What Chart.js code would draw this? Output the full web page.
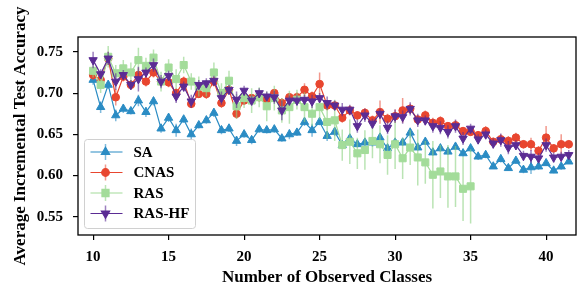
<!DOCTYPE html>
<html lang="en">
<head>
<meta charset="UTF-8" />
<title>Average Incremental Test Accuracy</title>
<script src="https://cdn.jsdelivr.net/npm/chart.js"></script>
<style>body { margin: 0; background: #fff; }</style>
</head>
<body>
<canvas id="accChart" width="582" height="291"></canvas>
<script>
// number of observed classes (x positions)
const classes = [10, 10.5, 11, 11.5, 12, 12.5, 13, 13.5, 14, 14.5,
  15, 15.5, 16, 16.5, 17, 17.5, 18, 18.5, 19, 19.5,
  20, 20.5, 21, 21.5, 22, 22.5, 23, 23.5, 24, 24.5,
  25, 25.5, 26, 26.5, 27, 27.5, 28, 28.5, 29, 29.5,
  30, 30.5, 31, 31.5, 32, 32.5, 33, 33.5, 34, 34.5,
  35, 35.5, 36, 36.5, 37, 37.5, 38, 38.5, 39, 39.5,
  40, 40.5, 41, 41.5];
const xTicks = [10, 15, 20, 25, 30, 35, 40];
const yTicks = [0.55, 0.60, 0.65, 0.70, 0.75];

const saAcc = [0.716, 0.683, 0.710, 0.673, 0.681, 0.678, 0.691, 0.677, 0.690, 0.657,
  0.670, 0.655, 0.668, 0.650, 0.661, 0.667, 0.676, 0.655, 0.657, 0.642,
  0.650, 0.643, 0.656, 0.655, 0.656, 0.645, 0.650, 0.652, 0.665, 0.655,
  0.665, 0.648, 0.653, 0.637, 0.645, 0.638, 0.640, 0.640, 0.646, 0.633,
  0.640, 0.640, 0.652, 0.634, 0.641, 0.628, 0.633, 0.629, 0.635, 0.627,
  0.633, 0.623, 0.625, 0.611, 0.620, 0.609, 0.618, 0.607, 0.610, 0.611,
  0.615, 0.606, 0.611, 0.617];
const saErr = [0.006, 0.007, 0.005, 0.007, 0.005, 0.004, 0.007, 0.006, 0.005, 0.005,
  0.005, 0.008, 0.004, 0.007, 0.004, 0.004, 0.005, 0.005, 0.004, 0.006,
  0.004, 0.005, 0.004, 0.004, 0.004, 0.004, 0.006, 0.004, 0.005, 0.008,
  0.004, 0.006, 0.005, 0.004, 0.004, 0.004, 0.005, 0.005, 0.004, 0.004,
  0.004, 0.004, 0.006, 0.004, 0.004, 0.004, 0.004, 0.004, 0.004, 0.004,
  0.004, 0.004, 0.004, 0.003, 0.004, 0.003, 0.004, 0.004, 0.008, 0.004,
  0.003, 0.003, 0.004, 0.003];

const cnasAcc = [0.722, 0.716, 0.742, 0.695, 0.720, 0.710, 0.722, 0.714, 0.725, 0.714,
  0.713, 0.700, 0.714, 0.687, 0.699, 0.699, 0.714, 0.688, 0.704, 0.675,
  0.691, 0.694, 0.695, 0.692, 0.700, 0.688, 0.695, 0.695, 0.704, 0.696,
  0.711, 0.685, 0.685, 0.670, 0.679, 0.673, 0.676, 0.667, 0.677, 0.669,
  0.672, 0.679, 0.681, 0.668, 0.673, 0.664, 0.666, 0.660, 0.661, 0.654,
  0.653, 0.649, 0.654, 0.641, 0.644, 0.642, 0.646, 0.638, 0.638, 0.630,
  0.646, 0.633, 0.638, 0.638];
const cnasErr = [0.006, 0.006, 0.008, 0.010, 0.006, 0.006, 0.008, 0.006, 0.006, 0.005,
  0.006, 0.006, 0.006, 0.005, 0.005, 0.006, 0.006, 0.006, 0.005, 0.006,
  0.005, 0.005, 0.005, 0.005, 0.005, 0.006, 0.005, 0.006, 0.008, 0.006,
  0.014, 0.006, 0.005, 0.006, 0.006, 0.005, 0.006, 0.006, 0.014, 0.006,
  0.008, 0.015, 0.006, 0.005, 0.006, 0.006, 0.006, 0.005, 0.006, 0.005,
  0.005, 0.005, 0.006, 0.005, 0.006, 0.006, 0.006, 0.005, 0.008, 0.006,
  0.014, 0.005, 0.012, 0.005];

const rasAcc = [0.727, 0.710, 0.744, 0.724, 0.730, 0.725, 0.740, 0.733, 0.743, 0.714,
  0.731, 0.717, 0.734, 0.714, 0.708, 0.706, 0.725, 0.700, 0.715, 0.684,
  0.694, 0.691, 0.695, 0.684, 0.694, 0.679, 0.683, 0.692, 0.683, 0.675,
  0.683, 0.665, 0.667, 0.637, 0.641, 0.627, 0.631, 0.642, 0.638, 0.625,
  0.638, 0.621, 0.634, 0.622, 0.616, 0.601, 0.605, 0.599, 0.599, 0.584,
  0.587];
const rasErr = [0.008, 0.010, 0.013, 0.010, 0.010, 0.012, 0.015, 0.010, 0.010, 0.012,
  0.010, 0.012, 0.010, 0.010, 0.012, 0.010, 0.012, 0.012, 0.012, 0.015,
  0.012, 0.015, 0.012, 0.018, 0.015, 0.015, 0.020, 0.012, 0.018, 0.015,
  0.015, 0.020, 0.025, 0.019, 0.027, 0.019, 0.024, 0.021, 0.023, 0.024,
  0.030, 0.025, 0.021, 0.034, 0.026, 0.041, 0.032, 0.038, 0.037, 0.039,
  0.045];

const rasHfAcc = [0.740, 0.723, 0.742, 0.714, 0.722, 0.710, 0.717, 0.725, 0.734, 0.714,
  0.721, 0.696, 0.708, 0.690, 0.710, 0.712, 0.715, 0.694, 0.704, 0.692,
  0.703, 0.691, 0.700, 0.696, 0.695, 0.679, 0.691, 0.691, 0.692, 0.690,
  0.694, 0.688, 0.685, 0.680, 0.680, 0.660, 0.673, 0.663, 0.675, 0.658,
  0.672, 0.671, 0.681, 0.667, 0.667, 0.660, 0.658, 0.653, 0.660, 0.645,
  0.657, 0.644, 0.650, 0.639, 0.643, 0.634, 0.637, 0.624, 0.623, 0.621,
  0.637, 0.622, 0.623, 0.625];
const rasHfErr = [0.010, 0.006, 0.008, 0.010, 0.006, 0.006, 0.015, 0.006, 0.008, 0.008,
  0.006, 0.008, 0.006, 0.008, 0.006, 0.006, 0.006, 0.008, 0.006, 0.010,
  0.006, 0.006, 0.006, 0.006, 0.008, 0.012, 0.006, 0.006, 0.006, 0.008,
  0.006, 0.008, 0.006, 0.008, 0.006, 0.008, 0.008, 0.006, 0.006, 0.008,
  0.008, 0.008, 0.008, 0.008, 0.006, 0.008, 0.008, 0.008, 0.008, 0.008,
  0.006, 0.006, 0.006, 0.006, 0.008, 0.008, 0.006, 0.006, 0.008, 0.006,
  0.008, 0.006, 0.006, 0.006];

const FONT = "'Liberation Serif', 'Times New Roman', serif";
Chart.defaults.font.family = FONT;
Chart.defaults.font.weight = 'bold';
Chart.defaults.font.size = 15;
Chart.defaults.color = '#000';

function makeSet(label, acc, err, color, errColor, style, rot, radius, order) {
  return {
    label,
    data: acc.map((v, i) => ({ x: classes[i], y: v })),
    errors: err,
    errColor,
    borderColor: color,
    backgroundColor: color,
    borderWidth: 1.2,
    pointStyle: style,
    pointRotation: rot,
    pointRadius: radius,
    pointBorderWidth: 1,
    pointBackgroundColor: color,
    pointBorderColor: color,
    tension: 0,
    order
  };
}

// vertical error bars, drawn just under each dataset's own line
const errorBars = {
  id: 'errorBars',
  beforeDatasetDraw(chart, args) {
    const ds = chart.data.datasets[args.index];
    if (!ds.errors) return;
    const { ctx, scales: { x, y } } = chart;
    ctx.save();
    ctx.strokeStyle = ds.errColor;
    ctx.lineWidth = 1.5;
    ctx.beginPath();
    ds.data.forEach((p, i) => {
      const e = ds.errors[i];
      const px = x.getPixelForValue(p.x);
      ctx.moveTo(px, y.getPixelForValue(p.y - e));
      ctx.lineTo(px, y.getPixelForValue(p.y + e));
    });
    ctx.stroke();
    ctx.restore();
  }
};

// black frame around the plot plus the legend box in the lower left
const frameAndLegend = {
  id: 'frameAndLegend',
  afterDraw(chart) {
    const { ctx, chartArea: a } = chart;
    ctx.save();
    ctx.strokeStyle = '#000';
    ctx.lineWidth = 1.3;
    ctx.strokeRect(a.left, a.top, a.right - a.left, a.bottom - a.top);

    const bw = 111, bh = 89;
    const bx = a.left + 6.5, by = a.bottom - 6.5 - bh;
    ctx.beginPath();
    ctx.roundRect(bx, by, bw, bh, 3);
    ctx.fillStyle = 'rgba(255,255,255,0.8)';
    ctx.fill();
    ctx.strokeStyle = '#d0d0d0';
    ctx.lineWidth = 1;
    ctx.stroke();

    ctx.font = 'bold 15px ' + FONT;
    ctx.textBaseline = 'middle';
    chart.data.datasets.forEach((ds, k) => {
      const cy = by + 12.5 + 20.5 * k;
      const x0 = bx + 6, x1 = bx + 38, mx = bx + 21;
      ctx.strokeStyle = ds.errColor;
      ctx.lineWidth = 1.5;
      ctx.beginPath();
      ctx.moveTo(mx, cy - 8);
      ctx.lineTo(mx, cy + 8);
      ctx.stroke();
      ctx.strokeStyle = ds.borderColor;
      ctx.lineWidth = 1.2;
      ctx.beginPath();
      ctx.moveTo(x0, cy);
      ctx.lineTo(x1, cy);
      ctx.stroke();
      ctx.fillStyle = ds.borderColor;
      Chart.helpers.drawPoint(ctx, {
        pointStyle: ds.pointStyle, rotation: ds.pointRotation,
        radius: ds.pointRadius, borderWidth: 1
      }, mx, cy);
      ctx.fillStyle = '#000';
      ctx.fillText(ds.label, bx + 49, cy + 1);
    });
    ctx.restore();
  }
};

new Chart(document.getElementById('accChart'), {
  type: 'line',
  data: {
    datasets: [
      makeSet('SA', saAcc, saErr, '#2b8cc4', 'rgba(43,140,196,0.6)', 'triangle', 0, 4.8, 4),
      makeSet('CNAS', cnasAcc, cnasErr, '#e8462f', 'rgba(232,70,47,0.55)', 'circle', 0, 3.8, 3),
      makeSet('RAS', rasAcc, rasErr, '#a3dc9a', 'rgba(140,210,130,0.6)', 'rect', 0, 5, 2),
      makeSet('RAS-HF', rasHfAcc, rasHfErr, '#5b2c94', 'rgba(91,44,148,0.6)', 'triangle', 180, 4.8, 1)
    ]
  },
  options: {
    responsive: false,
    animation: false,
    devicePixelRatio: 1,
    layout: { padding: { left: 0, right: 5, top: 37, bottom: 0 } },
    plugins: { legend: { display: false }, tooltip: { enabled: false } },
    scales: {
      x: {
        type: 'linear',
        min: 9.0,
        max: 41.98,
        afterFit: s => { s.height = 56; },
        afterBuildTicks: s => { s.ticks = xTicks.map(v => ({ value: v })); },
        grid: { drawOnChartArea: false, tickLength: 5, color: '#000', lineWidth: 1.2 },
        border: { display: false },
        ticks: { padding: 8, maxRotation: 0, color: '#000' },
        title: { display: true, text: 'Number of Observed Classes', padding: { top: 0, bottom: 3 }, font: { size: 17, weight: 'bold' } }
      },
      y: {
        min: 0.528,
        max: 0.768,
        afterFit: s => { s.width = 78; },
        afterBuildTicks: s => { s.ticks = yTicks.map(v => ({ value: v })); },
        grid: { drawOnChartArea: false, tickLength: 5, color: '#000', lineWidth: 1.2 },
        border: { display: false },
        ticks: { padding: 10, color: '#000', callback: v => v.toFixed(2) },
        title: { display: true, text: 'Average Incremental Test Accuracy', padding: { top: 10, bottom: 0 }, font: { size: 17, weight: 'bold' } }
      }
    }
  },
  plugins: [errorBars, frameAndLegend]
});
</script>
</body>
</html>
